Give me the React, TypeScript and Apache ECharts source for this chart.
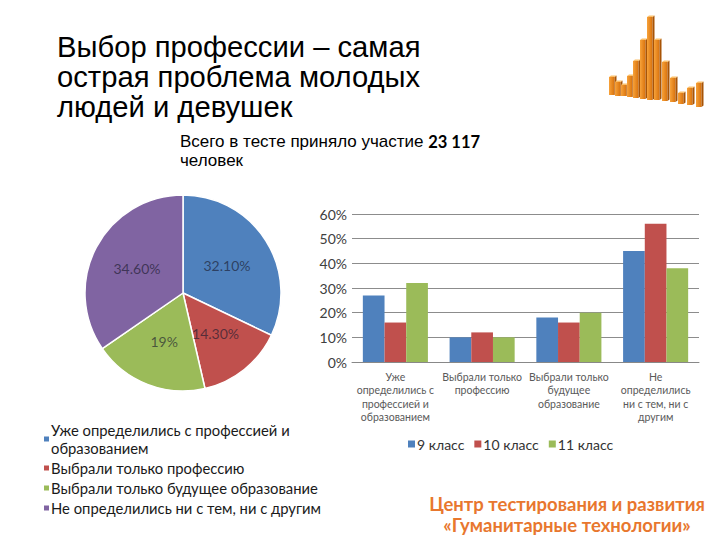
import React, { useEffect, useRef } from "react";
import * as echarts from "echarts";

const pieNames = [
  "Уже определились с профессией и образованием",
  "Выбрали только профессию",
  "Выбрали только будущее образование",
  "Не определились ни с тем, ни с другим",
];
const pieValues = [32.1, 14.3, 19, 34.6];
const pieLabels = ["32.10%", "14.30%", "19%", "34.60%"];

const barCategories = [
  "Уже\nопределились с\nпрофессией и\nобразованием",
  "Выбрали только\nпрофессию",
  "Выбрали только\nбудущее\nобразование",
  "Не\nопределились\nни с тем, ни с\nдругим",
];
const grade9 = [27, 10, 18, 45];
const grade10 = [16, 12, 16, 56];
const grade11 = [32, 10, 20, 38];
const seriesNames = ["9 класс", "10 класс", "11 класс"];

const logoBars = [
  [609, 77, 95], [615, 82, 96], [621, 85, 96], [627, 76, 97], [633, 61, 98],
  [640, 40, 99], [647, 17, 100], [654, 40, 100], [662, 62, 101], [670, 78, 102],
  [678, 93, 104], [687, 88, 105], [696, 83, 107],
];

const COLORS = ["#4F81BD", "#C0504D", "#9BBB59", "#8064A2"];
const FONT = "Lato, 'Open Sans', sans-serif";
const ARIAL = "'Liberation Sans', Arial, sans-serif";

export default function App() {
  const ref = useRef<HTMLDivElement>(null);
  useEffect(() => {
    if (!ref.current) return;
    const chart = echarts.init(ref.current, null, { renderer: "svg" });
    const logo: any[] = [];
    logoBars.forEach(([x, top, bottom]) => {
      logo.push({
        type: "rect",
        shape: { x, y: top, width: 5.5, height: bottom - top },
        style: {
          fill: new echarts.graphic.LinearGradient(0, 0, 1, 0, [
            { offset: 0, color: "#F7A23A" },
            { offset: 1, color: "#D9720C" },
          ]),
        },
      });
      logo.push({
        type: "polygon",
        shape: { points: [[x + 5.5, top], [x + 7.5, top - 1.5], [x + 7.5, bottom - 1.5], [x + 5.5, bottom]] },
        style: { fill: "#A85406" },
      });
      logo.push({
        type: "polygon",
        shape: { points: [[x, top], [x + 2, top - 1.5], [x + 7.5, top - 1.5], [x + 5.5, top]] },
        style: { fill: "#FBC06A" },
      });
    });
    chart.setOption({
      animation: false,
      backgroundColor: "#ffffff",
      color: COLORS,
      title: [
        {
          text: "Выбор профессии – самая\nострая проблема молодых\nлюдей и девушек",
          left: 52,
          top: 27,
          textStyle: {
            fontFamily: ARIAL,
            fontSize: 29.2,
            fontWeight: "normal",
            color: "#000",
            lineHeight: 30,
          },
        },
        {
          text: "{a|Всего в тесте приняло участие }{b|23 117}\n{a|человек}",
          left: 175,
          top: 127,
          textStyle: {
            fontWeight: "normal",
            rich: {
              a: { fontFamily: ARIAL, fontSize: 17, fontWeight: "normal", color: "#000", lineHeight: 19 },
              b: { fontFamily: FONT, fontSize: 16.5, fontWeight: "bold", color: "#000", lineHeight: 19 },
            },
          },
        },
      ],
      legend: [
        {
          data: pieNames,
          orient: "vertical",
          left: 42,
          top: 421,
          padding: 0,
          itemGap: 2,
          itemWidth: 7,
          itemHeight: 7,
          icon: "rect",
          formatter: (n: string) => (n === pieNames[0] ? "Уже определились с профессией и\nобразованием" : n),
          textStyle: { fontFamily: FONT, fontSize: 14.8, lineHeight: 18, color: "#1a1a1a", padding: [0, 0, 0, -4] },
        },
        {
          data: seriesNames,
          left: 408,
          top: 437,
          padding: 0,
          itemGap: 10,
          itemWidth: 7,
          itemHeight: 7,
          icon: "rect",
          textStyle: { fontFamily: FONT, fontSize: 14, color: "#333", padding: [0, 0, 0, -3] },
        },
      ],
      grid: { left: 352, right: 21, top: 214, bottom: 178 },
      xAxis: {
        type: "category",
        data: barCategories,
        axisLine: { lineStyle: { color: "#888" } },
        axisTick: { show: false },
        axisLabel: {
          interval: 0,
          fontFamily: FONT,
          fontSize: 10.5,
          lineHeight: 13.5,
          color: "#5a5a5a",
          margin: 8,
        },
      },
      yAxis: {
        type: "value",
        min: 0,
        max: 60,
        interval: 10,
        axisLine: { show: false },
        axisTick: { show: false },
        splitLine: { lineStyle: { color: "#8c8c8c" } },
        axisLabel: {
          formatter: "{value}%",
          fontFamily: FONT,
          fontSize: 14,
          color: "#404040",
          margin: 5,
        },
      },
      series: [
        {
          type: "pie",
          center: [183, 293],
          radius: 98,
          startAngle: 90,
          clockwise: true,
          data: pieNames.map((n, i) => ({ name: n, value: pieValues[i] })),
          itemStyle: { borderColor: "#fff", borderWidth: 1.5 },
          label: {
            position: "inner",
            formatter: (p: any) => pieLabels[p.dataIndex],
            fontFamily: FONT,
            fontSize: 14,
            color: "rgba(25,25,45,0.65)",
          },
          labelLine: { show: false },
          emphasis: { disabled: true },
        },
        ...[grade9, grade10, grade11].map((d, i) => ({
          type: "bar",
          name: seriesNames[i],
          data: d,
          barGap: "0%",
          barCategoryGap: "25%",
          itemStyle: { color: COLORS[i] },
        })),
      ],
      graphic: [
        ...logo,
        {
          type: "text",
          x: 567,
          y: 504,
          style: {
            text: "Центр тестирования и развития",
            font: "bold 18.5px Lato, 'Open Sans', sans-serif",
            fill: "#E8772E",
            textAlign: "center",
            textVerticalAlign: "middle",
          },
        },
        {
          type: "text",
          x: 567,
          y: 525,
          style: {
            text: "«Гуманитарные технологии»",
            font: "bold 18.5px Lato, 'Open Sans', sans-serif",
            fill: "#E8772E",
            textAlign: "center",
            textVerticalAlign: "middle",
          },
        },
      ],
    });
    return () => chart.dispose();
  }, []);
  return (
    <div
      ref={ref}
      style={{ position: "absolute", left: 0, top: 0, width: 720, height: 540 }}
    />
  );
}
